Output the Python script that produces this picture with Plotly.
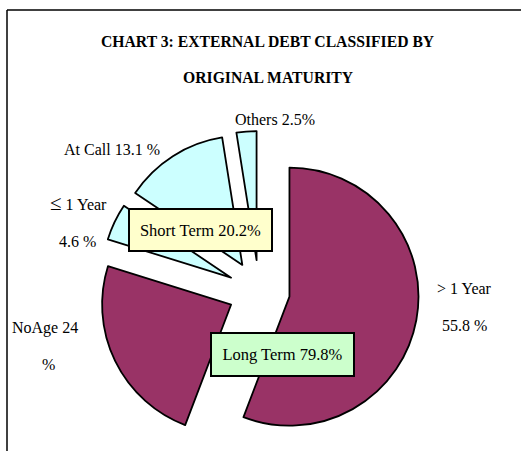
import plotly.graph_objects as go

W, H = 521, 451

# Data
categories = ["> 1 Year", "NoAge", "≤ 1 Year", "At Call", "Others"]
values = [55.8, 24.0, 4.6, 13.1, 2.5]
groups = ["Long Term", "Long Term", "Short Term", "Short Term", "Short Term"]
group_totals = {"Short Term": 20.2, "Long Term": 79.8}
title_lines = ["CHART 3: EXTERNAL DEBT CLASSIFIED BY", "ORIGINAL MATURITY"]

MAROON = "#993366"
CYAN = "#CCFFFF"
colors = [MAROON if g == "Long Term" else CYAN for g in groups]

FONT = "Liberation Serif"
FS = 16
FS_BOX = 16.5
FS_TITLE = 15.7

def px(x):
    return x / W

def py(y):
    return 1 - y / H

fig = go.Figure(go.Pie(
    labels=categories,
    values=values,
    sort=False,
    direction="clockwise",
    rotation=0,
    pull=[0.24] * len(values),
    textinfo="none",
    hoverinfo="label+percent",
    marker=dict(colors=colors, line=dict(color="black", width=1.8)),
    domain=dict(x=[px(259 - 166), px(259 + 166)], y=[0, py(291 - 160)]),
    showlegend=False,
))

ann = []
# title
ann.append(dict(text="<b>%s</b>" % title_lines[0], x=px(268), y=py(41), size=FS_TITLE))
ann.append(dict(text="<b>%s</b>" % title_lines[1], x=px(268), y=py(77), size=FS_TITLE))

# slice labels
ann.append(dict(text="Others %.1f%%" % values[4], x=px(275), y=py(119)))
ann.append(dict(text="At Call %.1f %%" % values[3], x=px(112), y=py(150)))
le, rest = categories[2].split(" ", 1)
ann.append(dict(text="<span style='font-size:21px'>%s</span> %s" % (le, rest), x=px(78), y=py(203)))
ann.append(dict(text="%.1f %%" % values[2], x=px(77), y=py(241)))
ann.append(dict(text="NoAge %g" % values[1], x=px(45), y=py(328)))
ann.append(dict(text="%", x=px(48), y=py(364)))
ann.append(dict(text=categories[0], x=px(464), y=py(288)))
ann.append(dict(text="%.1f %%" % values[0], x=px(464), y=py(325)))

for a in ann:
    size = a.pop("size", FS)
    a.update(xref="paper", yref="paper", showarrow=False,
             xanchor="center", yanchor="middle",
             font=dict(family=FONT, size=size, color="black"))

# group boxes
ann.append(dict(text="Short Term %.1f%%" % group_totals["Short Term"],
                x=px(200.5), y=py(230), xref="paper", yref="paper",
                showarrow=False, xanchor="center", yanchor="middle",
                width=141, height=40, borderwidth=2, borderpad=0,
                bordercolor="black", bgcolor="#FFFFCC",
                font=dict(family=FONT, size=FS_BOX, color="black")))
ann.append(dict(text="Long Term %.1f%%" % group_totals["Long Term"],
                x=px(282.5), y=py(354.5), xref="paper", yref="paper",
                showarrow=False, xanchor="center", yanchor="middle",
                width=141, height=41, borderwidth=2, borderpad=0,
                bordercolor="black", bgcolor="#CCFFCC",
                font=dict(family=FONT, size=FS_BOX, color="black")))

shapes = [
    dict(type="line", xref="paper", yref="paper", x0=px(7), y0=py(10), x1=1.0, y1=py(10),
         line=dict(color="black", width=1.5)),
    dict(type="line", xref="paper", yref="paper", x0=px(7), y0=py(10), x1=px(7), y1=0,
         line=dict(color="black", width=1.5)),
]

fig.update_layout(
    width=W, height=H,
    margin=dict(l=0, r=0, t=0, b=0),
    paper_bgcolor="white",
    plot_bgcolor="white",
    annotations=ann,
    shapes=shapes,
)

fig.write_html("out.html",
               config={"displayModeBar": False},
               post_script="document.body.style.margin='0';document.body.style.overflow='hidden';")
